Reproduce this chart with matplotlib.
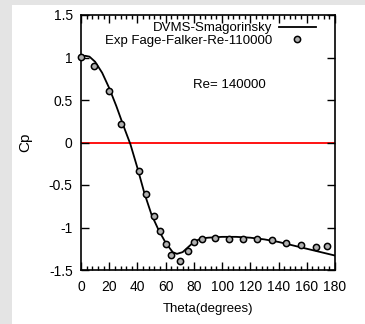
import matplotlib
matplotlib.use("Agg")
import matplotlib.pyplot as plt
from matplotlib.patches import Rectangle
from matplotlib.ticker import MultipleLocator

# Experimental data (Fage-Falkner, Re=110000)
exp_theta = [0, 9.4, 19.6, 28.6, 41, 46, 51.4, 56, 60, 64, 70, 76, 80, 85.5, 95, 105, 115, 125, 135, 145.6, 156, 166.5, 174.5]
exp_cp = [1.01, 0.90, 0.61, 0.22, -0.34, -0.61, -0.87, -1.04, -1.19, -1.32, -1.39, -1.28, -1.17, -1.13, -1.12, -1.13, -1.13, -1.14, -1.15, -1.18, -1.21, -1.23, -1.22]

# DVMS-Smagorinsky curve
sim_theta = [0, 3, 6, 10, 15, 20, 25, 30, 35, 40, 45, 50, 55, 60, 65, 68, 72, 76, 80, 85, 90, 100, 110, 120, 130, 140, 150, 160, 170, 180]
sim_cp = [1.0, 1.02, 1.01, 0.95, 0.82, 0.64, 0.43, 0.2, -0.02, -0.3, -0.6, -0.85, -1.03, -1.18, -1.29, -1.31, -1.29, -1.23, -1.17, -1.13, -1.12, -1.11, -1.11, -1.12, -1.14, -1.17, -1.21, -1.25, -1.29, -1.33]

xticks = [0, 20, 40, 60, 80, 100, 120, 140, 160, 180]
yticks = [-1.5, -1, -0.5, 0, 0.5, 1, 1.5]
ytick_labels = ["-1.5", "-1", "-0.5", "0", "0.5", "1", "1.5"]

plt.rcParams['font.family'] = ['Liberation Sans', 'DejaVu Sans']

fig = plt.figure(figsize=(3.65, 3.24), dpi=100)
fig.patch.set_facecolor('#e4e4e4')
bg = Rectangle((12/365, 0), 1 - 12/365, 1 - 5/324, transform=fig.transFigure,
               facecolor='white', edgecolor='none', zorder=-10)
fig.patches.append(bg)

ax = fig.add_axes([81/365, 1 - 270/324, (335 - 81)/365, (270 - 15)/324])
ax.set_zorder(5)
ax.set_facecolor('white')

ax.axhline(0, color='#ff0000', lw=1.3, zorder=1)
ax.plot(sim_theta, sim_cp, color='black', lw=1.3, label='DVMS-Smagorinsky', zorder=2)
ax.plot(exp_theta, exp_cp, ls='none', marker='o', ms=4.5, mfc='#b0b0b0', mec='black', mew=1.1,
        label='Exp Fage-Falker-Re-110000', zorder=3, clip_on=False)

ax.set_xlim(0, 180)
ax.set_ylim(-1.5, 1.5)
ax.set_xticks(xticks)
ax.set_yticks(yticks)
ax.set_yticklabels(ytick_labels)
ax.xaxis.set_minor_locator(MultipleLocator(4))
ax.tick_params(which='major', direction='in', length=6, width=1, top=True, right=True, labelsize=10)
ax.tick_params(axis='x', which='major', pad=7)
ax.tick_params(axis='y', which='major', pad=6)
ax.tick_params(which='minor', direction='in', length=3, width=1, top=True, bottom=True)
ax.tick_params(axis='y', which='minor', left=False, right=False)
for s in ax.spines.values():
    s.set_linewidth(1.2)

ax.set_xlabel('Theta(degrees)', fontsize=9.5, labelpad=7)
ax.set_ylabel('Cp', fontsize=11, labelpad=12)

ax.text(105, 0.68, 'Re= 140000', fontsize=9.5, ha='center', va='center')

ax.legend(loc='upper right', bbox_to_anchor=(0.925, 0.972), frameon=False, markerfirst=False,
          fontsize=9.5, handlelength=2.8, borderaxespad=0.0, borderpad=0.0,
          labelspacing=0.0, handletextpad=0.5)

fig.savefig('out.png', dpi=100, facecolor=fig.get_facecolor())
